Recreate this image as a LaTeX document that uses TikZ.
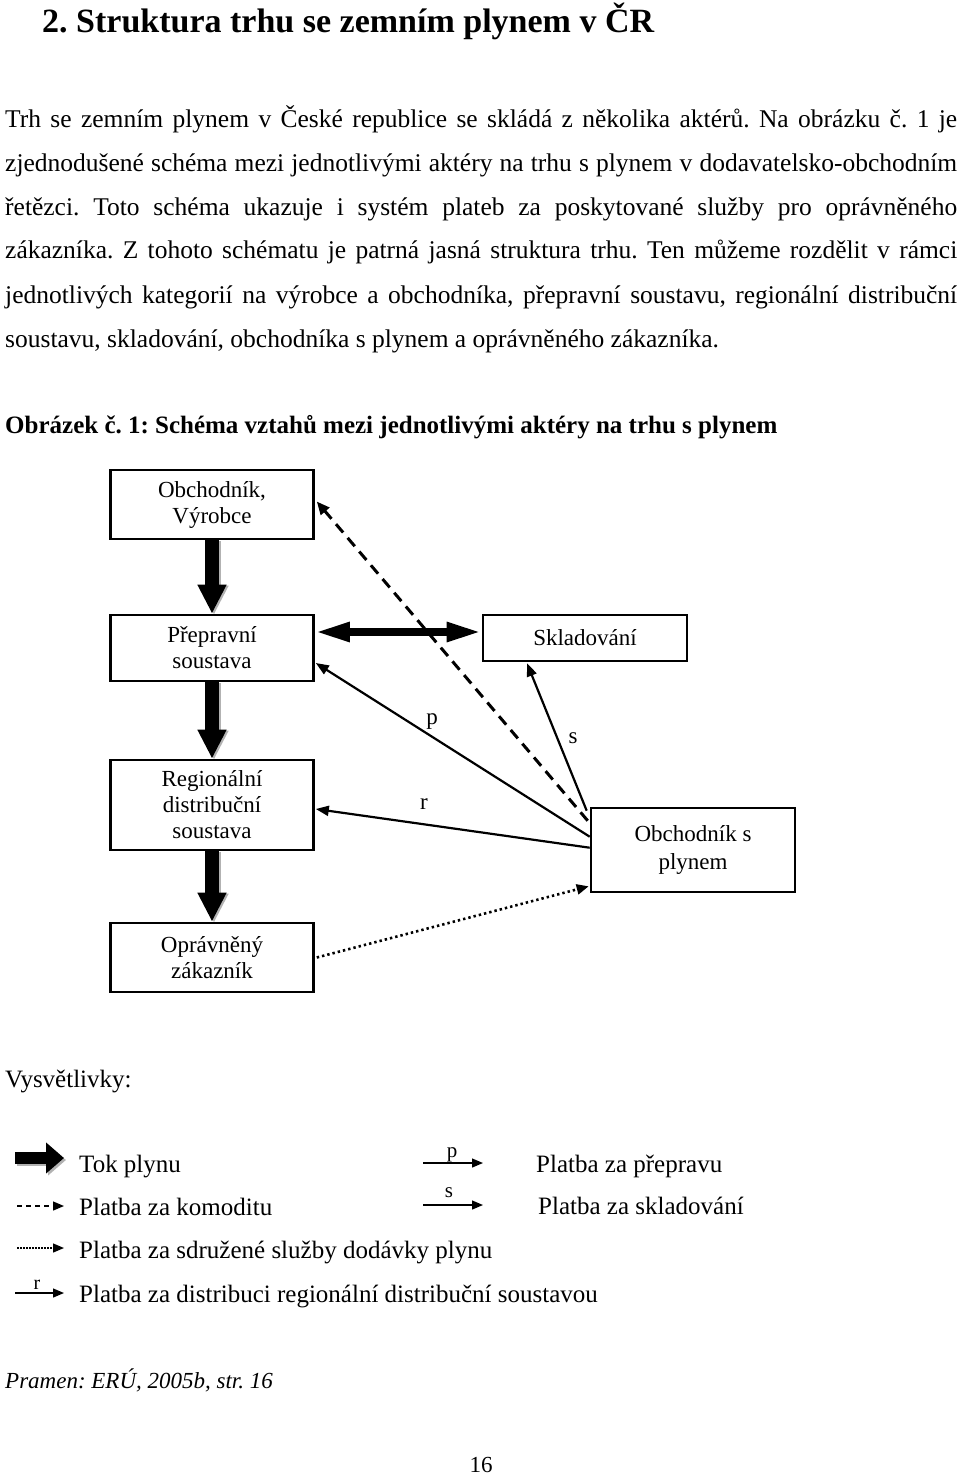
\documentclass[tikz,border=0pt]{standalone}
\usepackage{fontspec}
\setmainfont{Liberation Serif}
\usetikzlibrary{arrows.meta}
\begin{document}
\frenchspacing
\begin{tikzpicture}[x=1pt,y=-1pt,
  txt/.style={anchor=base west, inner sep=0pt},
  bodyfont/.style={font=\frenchspacing\fontsize{25.5}{25.5}\selectfont},
  box/.style={draw, line width=2.6pt, minimum width=203pt, inner sep=0pt, align=center,
              font=\fontsize{23}{26}\selectfont},
  flow/.style={line width=14pt, -{Triangle[length=29pt,width=27pt]}},
  flowshadow/.style={flow, draw=gray!60},
  dbl/.style={line width=8pt, {Triangle[length=35pt,width=18pt]}-{Triangle[length=35pt,width=18pt]}},
  pay/.style={line width=2.2pt, -{Triangle[length=13pt,width=10pt]}},
  commodity/.style={line width=3pt, dash pattern=on 11pt off 7pt, -{Triangle[length=13pt,width=11pt]}},
  assoc/.style={line width=2.6pt, dash pattern=on 2.4pt off 3pt, -{Triangle[length=12pt,width=10pt]}},
  lbl/.style={font=\fontsize{23}{23}\selectfont, inner sep=0pt},
  legfont/.style={font=\fontsize{25}{25}\selectfont},
  legthin/.style={line width=1.3pt, -{Triangle[length=11pt,width=9pt]}},
  legdash/.style={legthin, dash pattern=on 5pt off 4pt},
  legdot/.style={legthin, dash pattern=on 1.5pt off 1.5pt},
  legflow/.style={line width=12pt, -{Triangle[length=18pt,width=30pt]}},
  legflowshadow/.style={legflow, draw=gray!60}
]
\useasboundingbox (0,0) rectangle (960,1476);

% heading
\node[txt, font=\bfseries\fontsize{34}{34}\selectfont] (head) at (42,32) {2. Struktura trhu se zemním plynem v ČR};

% body text
\node[txt, bodyfont] (l1) at (5,127) {\makebox[952pt][s]{Trh se zemním plynem v~České republice se skládá z~několika aktérů. Na obrázku č. 1 je}};
\node[txt, bodyfont] (l2) at (5,171) {\makebox[952pt][s]{zjednodušené schéma mezi jednotlivými aktéry na trhu s plynem v dodavatelsko-obchodním}};
\node[txt, bodyfont] (l3) at (5,215) {\makebox[952pt][s]{řetězci. Toto schéma ukazuje i systém plateb za poskytované služby pro oprávněného}};
\node[txt, bodyfont] (l4) at (5,258) {\makebox[952pt][s]{zákazníka. Z tohoto schématu je patrná jasná struktura trhu. Ten můžeme rozdělit v~rámci}};
\node[txt, bodyfont] (l5) at (5,303) {\makebox[952pt][s]{jednotlivých kategorií na výrobce a obchodníka, přepravní soustavu, regionální distribuční}};
\node[txt, bodyfont] (l6) at (5,347) {soustavu, skladování, obchodníka s plynem a oprávněného zákazníka.};

% caption
\node[txt, font=\bfseries\fontsize{25}{25}\selectfont] (cap) at (5,433) {Obrázek č. 1: Schéma vztahů mezi jednotlivými aktéry na trhu s plynem};

% boxes
\node[box, minimum height=69pt] (ov) at (212,504.5) {Obchodník,\\Výrobce};
\node[box, minimum height=66pt] (pr) at (212,648) {Přepravní\\soustava};
\node[box, minimum width=204pt, minimum height=46pt] (sk) at (585,638) {Skladování};
\node[box, minimum height=90pt] (rg) at (212,805) {Regionální\\distribuční\\soustava};
\node[box, minimum height=69pt] (oz) at (212,957.5) {Oprávněný\\zákazník};
\node[box, minimum width=204pt, minimum height=84pt, font=\fontsize{23}{28}\selectfont] (op) at (693,850) {Obchodník s\\plynem};

% gas flow
\draw[flowshadow] ([shift={(2,1)}]ov.south) -- ([shift={(2,1)}]pr.north);
\draw[flow] (ov.south) -- (pr.north);
\draw[flowshadow] ([shift={(2,1)}]pr.south) -- ([shift={(2,1)}]rg.north);
\draw[flow] (pr.south) -- (rg.north);
\draw[flowshadow] ([shift={(2,1)}]rg.south) -- ([shift={(2,1)}]oz.north);
\draw[flow] (rg.south) -- (oz.north);
\draw[dbl] ([shift={(0,-16)}]pr.east) -- ([shift={(0,-6)}]sk.west);

% payments
\draw[commodity] ([shift={(-2,14)}]op.north west) -- ([shift={(2,-3)}]ov.east);
\draw[pay] ([shift={(0,30)}]op.north west) -- ([shift={(1,15)}]pr.east);
\draw[pay] ([shift={(-3,4)}]op.north west) -- ([shift={(-58,1)}]sk.south);
\draw[pay] ([shift={(0,41)}]op.north west) -- ([shift={(1,4)}]rg.east);
\draw[assoc] ([shift={(2,0)}]oz.east) -- ([shift={(-1,-7)}]op.south west);

\node[lbl] (lp) at (432,722) {p};
\node[lbl] (ls) at (573,738) {s};
\node[lbl] (lr) at (424,804) {r};

% legend
\node[txt, legfont] (vys) at (5,1087) {Vysvětlivky:};

\coordinate (a1) at (15,1158); \coordinate (b1) at (64,1158);
\draw[legflowshadow] ([shift={(2,2)}]a1) -- ([shift={(2,2)}]b1);
\draw[legflow] (a1) -- (b1);
\node[txt, legfont] (t1) at (79,1172) {Tok plynu};

\coordinate (a2) at (17,1206); \coordinate (b2) at (64,1206);
\draw[legdash] (a2) -- (b2);
\node[txt, legfont] (t2) at (79,1215) {Platba za komoditu};

\coordinate (a3) at (17,1248); \coordinate (b3) at (64,1248);
\draw[legdot] (a3) -- (b3);
\node[txt, legfont] (t3) at (79,1258) {Platba za sdružené služby dodávky plynu};

\coordinate (a4) at (15,1293); \coordinate (b4) at (64,1293);
\draw[legthin] (a4) -- (b4);
\node[txt, font=\fontsize{20}{20}\selectfont, anchor=base] (lr2) at (37,1289) {r};
\node[txt, legfont] (t4) at (79,1302) {Platba za distribuci regionální distribuční soustavou};

\coordinate (a5) at (423,1163); \coordinate (b5) at (483,1163);
\draw[legthin] (a5) -- (b5);
\node[txt, font=\fontsize{21}{21}\selectfont, anchor=base] (lp2) at (452,1157) {p};
\node[txt, legfont] (t5) at (536,1172) {Platba za přepravu};

\coordinate (a6) at (423,1205); \coordinate (b6) at (483,1205);
\draw[legthin] (a6) -- (b6);
\node[txt, font=\fontsize{21}{21}\selectfont, anchor=base] (ls2) at (449,1197) {s};
\node[txt, legfont] (t6) at (538,1214) {Platba za skladování};

% source & page
\node[txt, font=\itshape\fontsize{23}{23}\selectfont] (src) at (5,1388) {Pramen: ERÚ, 2005b, str. 16};
\node[txt, font=\fontsize{23}{23}\selectfont, anchor=base] (pg) at (481,1472) {16};
\end{tikzpicture}
\end{document}
